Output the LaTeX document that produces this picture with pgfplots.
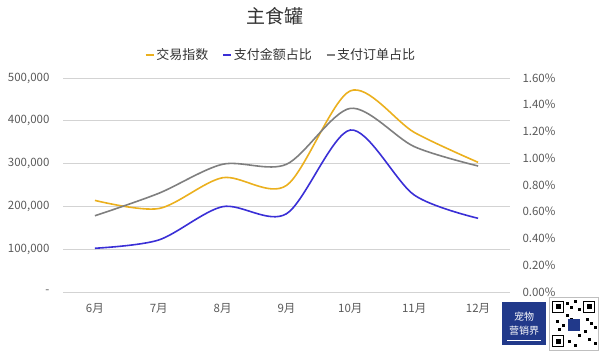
\documentclass[border=0pt]{standalone}
\usepackage{pgfplots}
\pgfplotsset{compat=1.18}
\usepackage{fontspec}
\setmainfont{Noto Sans CJK SC}
\definecolor{gold}{HTML}{EBB01E}
\definecolor{vblue}{HTML}{3A2FD6}
\definecolor{lgray}{HTML}{7F7F7F}
\definecolor{gridc}{HTML}{D3D3D3}
\definecolor{txt}{HTML}{595959}
\definecolor{navy}{HTML}{21398A}
\pgfplotstableread{
x idx amt ord
0 214000 0.327 0.570
1 195000 0.389 0.738
2 267000 0.638 0.955
3 249000 0.585 0.955
4 470000 1.211 1.373
5 373000 0.725 1.087
6 303000 0.551 0.942
}\datatable
\begin{document}
\begin{tikzpicture}
\path[use as bounding box] (0pt,0pt) rectangle (600pt,351pt);
\begin{axis}[
  at={(63pt,59pt)}, anchor=south west, scale only axis,
  width=447pt, height=214pt,
  xmin=-0.5, xmax=6.5, ymin=0, ymax=500000,
  scaled y ticks=false,
  xtick={0,...,6},
  xticklabels={6月,7月,8月,9月,10月,11月,12月},
  ytick={0,100000,200000,300000,400000,500000},
  yticklabels={{-},{100,000},{200,000},{300,000},{400,000},{500,000}},
  axis line style={draw=none}, major tick length=0pt,
  ymajorgrids, grid style={gridc, line width=0.9pt},
  tick label style={font=\fontsize{11.5}{12}\selectfont, text=txt},
  xticklabel shift=8pt, yticklabel shift=10pt,
  title={主食罐},
  title style={at={(axis description cs:0.474,1.262)}, anchor=center,
    font=\fontsize{19}{20}\selectfont, text=black!80},
  clip=false,
]
\addplot[gold, line width=1.6pt, smooth, tension=0.5] table[x=x,y=idx]{\datatable};
\end{axis}
\begin{axis}[
  at={(63pt,59pt)}, anchor=south west, scale only axis,
  width=447pt, height=214pt,
  xmin=-0.5, xmax=6.5, ymin=0, ymax=1.6,
  axis x line=none, axis y line*=right,
  axis line style={draw=none}, major tick length=0pt,
  ytick={0,0.2,...,1.61},
  yticklabel={\pgfmathprintnumber[fixed,fixed zerofill,precision=2]{\tick}\%},
  /pgf/number format/assume math mode=true,
  tick label style={font=\fontsize{11.5}{12}\selectfont, text=txt},
  yticklabel shift=9pt,
  legend columns=3,
  legend style={draw=none, fill=none, at={(axis description cs:0.488,1.107)}, anchor=center,
    font=\fontsize{13}{14}\selectfont, text=black!80,
    /tikz/every even column/.append style={column sep=12pt},
    inner sep=0pt, cells={anchor=west}},
  legend image code/.code={\draw[#1, line width=1.4pt] (0pt,0pt) -- (8pt,0pt);},
  clip=false,
]
\addlegendimage{gold}\addlegendentry{交易指数}
\addplot[vblue, line width=1.6pt, smooth, tension=0.5] table[x=x,y=amt]{\datatable};
\addlegendentry{支付金额占比}
\addplot[lgray, line width=1.6pt, smooth, tension=0.5] table[x=x,y=ord]{\datatable};
\addlegendentry{支付订单占比}
\end{axis}
% watermark
\fill[navy] (502pt,6pt) rectangle (546pt,49pt);
\node[text=white, font=\fontsize{10}{11}\selectfont] at (524pt,34pt) {宠物};
\node[text=white, font=\fontsize{10}{11}\selectfont] at (524pt,20pt) {营销界};
\draw[white, line width=0.6pt] (507pt,11pt) -- (541pt,11pt);
\draw[gray!50, fill=white] (549pt,1pt) rectangle (598pt,54pt);
\foreach \px/\py in {552/38, 583/38, 552/4} {
  \draw[black, line width=1.2pt] (\px pt+0.6pt,\py pt+0.6pt) rectangle (\px pt+11.4pt,\py pt+11.4pt);
  \fill[black] (\px pt+3.5pt,\py pt+3.5pt) rectangle (\px pt+8.5pt,\py pt+8.5pt);
}
\foreach \px/\py in {566/46, 570/42, 574/48, 578/40, 566/34, 556/28, 562/24, 586/30, 590/26, 594/22, 584/18, 588/10, 594/6, 568/8, 574/4, 578/14, 558/20, 570/30} {
  \fill[black] (\px pt,\py pt) rectangle (\px pt+3pt,\py pt+3pt);
}
\fill[navy] (568pt,20pt) rectangle (580pt,32pt);
\end{tikzpicture}
\end{document}
